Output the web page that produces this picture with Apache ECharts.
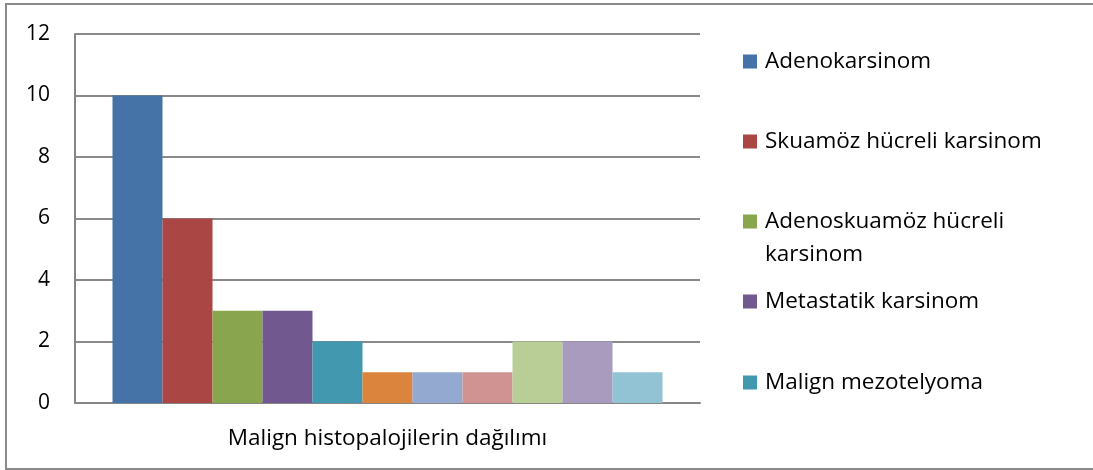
<!DOCTYPE html>
<html>
<head>
<meta charset="utf-8">
<script src="https://cdn.jsdelivr.net/npm/echarts@6/dist/echarts.min.js"></script>
<style>
  html, body { margin: 0; padding: 0; background: #fff; }
  #frame { position: absolute; left: 5px; top: 3px; width: 1100px; height: 463px; border: 2px solid #8a8a8a; }
  #chart { position: absolute; left: 0; top: 0; width: 1093px; height: 470px; }
</style>
</head>
<body>
<div id="frame"></div>
<div id="chart"></div>
<script>
  // kategori (tek grup)
  const categories = ['Malign histopalojilerin dağılımı']
  // seri adlari (legend sadece ilk bes tanesini gosteriyor)
  const seriesNames = [
    'Adenokarsinom',
    'Skuamöz hücreli karsinom',
    'Adenoskuamöz hücreli karsinom',
    'Metastatik karsinom',
    'Malign mezotelyoma',
    '', '', '', '', '', ''
  ]
  const seriesValues = [10, 6, 3, 3, 2, 1, 1, 1, 2, 2, 1]
  const colors = ['#4572A7', '#AA4643', '#89A54E', '#71588F', '#4198AF', '#DB843D',
                  '#93A9CF', '#D19392', '#B9CD96', '#A99BBD', '#92C3D4']
  const yTicks = [0, 2, 4, 6, 8, 10, 12]

  const font = '"Open Sans", sans-serif'
  const fontSize = 22.5
  const chart = echarts.init(document.getElementById('chart'))

  // legend: her oge ayri, sabit aralikla (uzun isim iki satira bolunuyor)
  const legendMid = [60, 140, 220, 300, 381]
  const legends = seriesNames.slice(0, 5).map((name, i) => ({
    data: [name],
    left: 743,
    top: legendMid[i] - 14.5,
    padding: 0,
    icon: 'rect',
    itemWidth: 14,
    itemHeight: 14,
    selectedMode: false,
    formatter: n => n === 'Adenoskuamöz hücreli karsinom' ? 'Adenoskuamöz hücreli' : n,
    textStyle: { fontFamily: font, fontSize: fontSize, color: '#000', lineHeight: 32, padding: [0, 0, 0, 3] }
  }))

  chart.setOption({
    animation: false,
    color: colors,
    legend: legends,
    graphic: [{
      type: 'text',
      left: 765,
      top: legendMid[2] + 33 - 14.5,
      style: { text: 'karsinom', fontFamily: font, fontSize: fontSize, fill: '#000', lineHeight: 32 }
    }],
    grid: { left: 75, right: 393, top: 34, bottom: 67 },
    xAxis: {
      type: 'category',
      data: categories,
      axisLine: { lineStyle: { color: '#868686', width: 2 } },
      axisTick: { show: false },
      axisLabel: { fontFamily: font, fontSize: fontSize, color: '#000', margin: 24 }
    },
    yAxis: {
      type: 'value',
      min: yTicks[0],
      max: yTicks[yTicks.length - 1],
      interval: 2,
      axisLine: { show: true, lineStyle: { color: '#868686', width: 2 } },
      axisTick: { show: false },
      axisLabel: { fontFamily: font, fontSize: 21, color: '#000', margin: 25 },
      splitLine: { lineStyle: { color: '#8a8a8a', width: 2 } }
    },
    series: seriesValues.map((v, i) => ({
      type: 'bar',
      name: seriesNames[i],
      data: [v],
      barGap: '0%',
      barCategoryGap: '12%'
    }))
  })
</script>
</body>
</html>
